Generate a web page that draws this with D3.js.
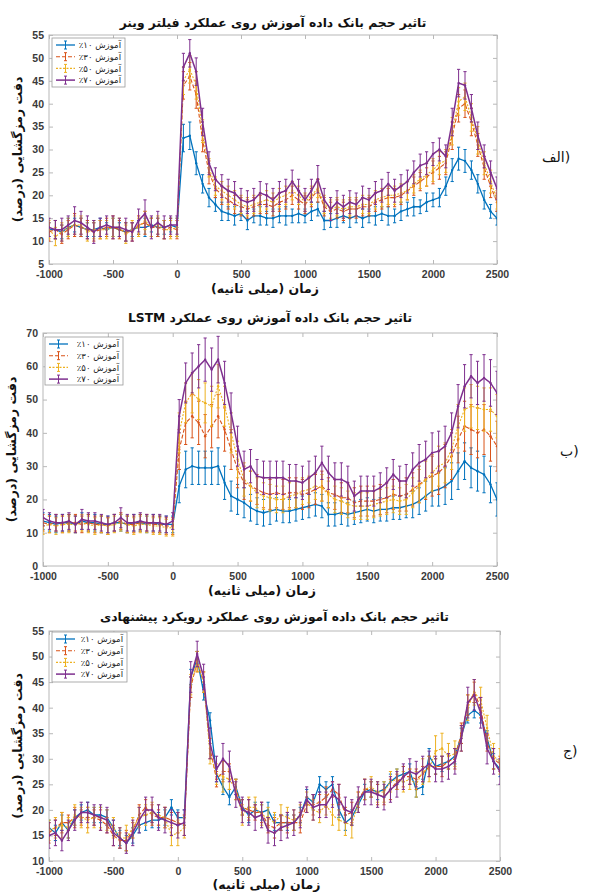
<!DOCTYPE html>
<html><head><meta charset="utf-8">
<script src="https://cdn.jsdelivr.net/npm/d3@7"></script>
<style>body{margin:0;background:#fff;position:relative}svg{display:block}
.side{position:absolute;direction:ltr;unicode-bidi:isolate;font-family:'DejaVu Sans',sans-serif;font-size:14px;color:#111;line-height:1;white-space:nowrap}</style>
</head><body><svg id="c" width="591" height="896"></svg>
<script>
// ---------- DATA ----------
const times = d3.range(-1000, 2501, 50);
const seriesLabels = ["آموزش ۱۰٪","آموزش ۳۰٪","آموزش ۵۰٪","آموزش ۷۰٪"];
const xTicks = [-1000,-500,0,500,1000,1500,2000,2500];
const yTicksWiener = [5,10,15,20,25,30,35,40,45,50,55];
const yTicksLSTM = [0,10,20,30,40,50,60,70];
const yTicksProp = [10,15,20,25,30,35,40,45,50,55];

// Panel 1 : Wiener filter
const w10 = [12.5,12.5,12,13,13.5,13,12.5,12.5,13,12.5,13,12.5,12,12.5,13,13,13.5,13,13,13.5,13,
 32.5,33,27,22.5,19.5,18,16.5,16,15.5,16, 14.5,15.5,15.5,15,15,15.5,15.5,15.5,16,15.5, 16.5,17,14.5,14.5,15,15.5,15,15.5,15,15.5, 15.5,16,15.5,15.5,16.5,17,17.5,17.5,18.5,19, 19.5,22,25.5,28,27.5,25.5,22.5,19,16.5,15];
const w30 = [12,12.5,11.5,12.5,13.5,13,12.5,12,12.5,13,13,12.5,12,12,13.5,14,13,13,12.5,13,12.5,
 44,46,42,32,25,21.5,20,19,18,17.5, 17,17.5,18,18,17.5,18.5,19,20,19,18, 19.5,21,17.5,16.5,17,16.5,17,17,17.5,17.5, 18.5,19,19.5,19.5,20,21,22,23,24,25, 26,27,33,39,40,36,31,26,22,18.5];
const w50 = [12.5,11,12,13,13.5,13.5,12,12.5,12.5,12.5,13,13,11.5,12.5,13,14.5,13,13.5,12.5,12.5,13,
 45,47.5,44,34,26,22,21,20,19,18, 17.5,18,18.5,19,18.5,19.5,20,21,20,18.5, 20,21.5,18,17,17.5,17,17.5,17.5,18,18, 19,19.5,20,20,20.5,21,22.5,23.5,24.5,25.5, 27,27.5,34,40.5,41.5,37,32,27,23,19];
const w70 = [13,12.5,12.5,13.5,14.5,14,13,12,13,13.5,13,13,12.5,12,14.5,16,13,14,13,13.5,13.5,
 48,51,47,36,27,23.5,22,21,20.5,19, 18.5,19,20.5,20,19,20.5,21,23,21,19, 21,23.5,19,17,18.5,17.5,18.5,18,19.5,19, 20.5,21,22.5,21,22,23,25,26.5,27,29, 30,28.5,36,44.5,44,39,33,28.5,25,21.5];
const ew10 = [1.5,2,1.5,2,1.5,2,1.5,1.5,2,1.5,2,1.5,2,1.5,1.5,2,1.5,2,1.5,1.5,2,
 3,3,2.5,2,2,1.5,2,1.5,2,1.5, 2,1.5,2,1.5,2,1.5,2,1.5,2,1.5, 2,1.5,2,1.5,2,1.5,2,1.5,2,1.5, 2,1.5,2,1.5,2,1.5,2,1.5,2,1.5, 2,2,2.5,2.5,2.5,2,2,2,1.5,1.5];
const ew30 = [2,2,2,2,2.5,2,2,2,2,2,2.5,2,2,2,2,2.5,2,2,2,2,2,
 3,3,3,2.5,2.5,2,2,2,2,2, 2,2,2,2,2,2,2,2,2,2, 2,2.5,2,2,2,2,2,2,2,2, 2,2,2,2,2,2,2,2,2,2.5, 2.5,2.5,3,3,3,3,2.5,2.5,2.5,2];
const ew50 = [2,2,2,2,2,2,2,2,2,2,2,2,2,2,2,2,2,2,2,2,2,
 3,3,3,2.5,2,2,2,2,2,2, 2,2,2,2,2,2,2,2,2,2, 2,2,2,2,2,2,2,2,2,2, 2,2,2,2,2,2,2,2,2.5,2.5, 2.5,2.5,3,3,3,3,3,2.5,2.5,2];
const ew70 = [2,2,2.5,2,3,2.5,2.5,2.5,2,2,2.5,2,2.5,2,2.5,3,2.5,2.5,2.5,2,2,
 3,3,3,3,2.5,2.5,2.5,2.5,2.5,2.5, 2.5,2.5,2.5,2.5,2.5,2.5,2.5,2.5,2.5,2.5, 2.5,3,2.5,2.5,2.5,2.5,2.5,2.5,2.5,2.5, 2.5,2.5,2.5,2.5,2.5,2.5,2.5,2.5,2.5,2.5, 2.5,2.5,3,3,3,3,3,2.5,2.5,2.5];

// Panel 2 : LSTM
const l10 = [13.5,13,12.5,13,13,12.5,13.5,13,13,12.5,12.5,13,13,12.5,13,13,12.5,13,12.5,12.5,12.5,
 24,29,30,29.5,29.5,29.5,30,25,21,20, 19,17.5,16.5,16,16.5,17,16.5,16.5,17,17.5, 18,18.5,18,15.5,15.5,16,15.5,16,16.5,17, 16.5,17,17,17.5,17.5,18,18.5,19.5,21,22.5, 23,24,25.5,28.5,31.5,29.5,28.5,27.5,24.5,20];
const l30 = [13,12.5,13,12.5,13,13,12.5,13,12.5,12.5,12,13,13.5,12.5,12.5,13,13,12.5,12.5,12,12,
 35,43,45,43,39,42,45,41,35,29, 25,24,23,22,21.5,22,21.5,22,22,21.5, 22,23,24,22,21.5,20.5,20.5,19,19.5,19.5, 19.5,20,20.5,21.5,21,21.5,23,24.5,26,27, 28,30,33,38,42,41,40,41,39,36];
const l50 = [12,12.5,12,12.5,12.5,12.5,13,12.5,12,12.5,12,12.5,13,12.5,12,12.5,12.5,12,12,11.5,11.5,
 40,49,52,50,49,48,54,48,40,32, 26,24,22,21,20.5,20,20,21,21.5,22.5, 23,24,23.5,21.5,20,19.5,18.5,18,18,18, 18.5,19,19.5,20,19.5,20,22,24,26,28, 30,31,35,42,47,48,47.5,47,47,45];
const l70 = [14.5,13.5,13,13,13.5,12.5,14,13.5,13.5,13,12.5,13,14.5,13,13,13.5,13,13,13,12.5,13.5,
 45,55,58,60,62,59,62,55,46,36, 29,30,27,26.5,26.5,26.5,26.5,25.5,25.5,25, 26.5,28,31,28,26,26,25,21,22.5,22.5, 22.5,23.5,25,27.5,25.5,25.5,29,31,32,34, 34.5,36,40,48,54,57,55,56.5,55,52];
const el10 = [2.5,2.5,2.5,2.5,2.5,2.5,2.5,2.5,2.5,2.5,2.5,2.5,2.5,2.5,2.5,2.5,2.5,2.5,2.5,2.5,2.5,
 5,5.5,5.5,5,5,5,5.5,5,4.5,4.5, 4.5,4,4,4,4,3.5,3.5,3.5,3.5,3.5, 3.5,3.5,3.5,3.5,3.5,3.5,3.5,3.5,3.5,3.5, 3.5,3.5,3.5,3.5,3.5,3.5,4,4,4.5,4.5, 5,5.5,5.5,5.5,5.5,6,6,5.5,5.5,5];
const el30 = [2.5,2.5,2.5,2.5,2.5,2.5,2.5,2.5,2.5,2.5,2.5,2.5,2.5,2.5,2.5,2.5,2.5,2.5,2.5,2.5,2.5,
 6,6.5,6.5,6.5,6.5,6.5,6.5,6.5,6,5.5, 5,4.5,4.5,4.5,4.5,4.5,4.5,4.5,4.5,4.5, 4.5,4.5,4.5,4.5,4.5,4.5,4.5,4.5,4.5,4.5, 4.5,4.5,4.5,4.5,4.5,5,5,5.5,6,6, 6.5,6.5,7,7,7.5,7.5,7.5,7.5,7.5,7.5];
const el50 = [2.5,2.5,2.5,2.5,2.5,2.5,2.5,2.5,2.5,2.5,2.5,2.5,2.5,2.5,2.5,2.5,2.5,2.5,2.5,2.5,2.5,
 6,6,6,6,6,6,6.5,6,6,5.5, 5,4.5,4.5,4,4,4,4,4,4,4, 4,4,4,4,4,4,4,4,4,4, 4,4,4,4,4,4.5,4.5,5,5.5,5.5, 6,6,6,6.5,6.5,6.5,6.5,6.5,6.5,6.5];
const el70 = [2.5,2.5,2.5,2.5,2.5,2.5,3,2.5,2.5,2.5,2.5,2.5,3,2.5,2.5,2.5,2.5,2.5,2.5,2.5,2.5,
 5,6,6,6.5,6.5,6.5,7,6.5,6,6, 5.5,5,5,5,5,5,5,5,5,5, 5,5,5,5,5,5,5,4.5,4.5,4.5, 4.5,4.5,4.5,4.5,4.5,5,5,5.5,5.5,6, 6,6,6,6.5,6.5,6.5,6.5,7,7,6.5];

// Panel 3 : proposed approach
const p10 = [16.5,15.5,17.5,16,18.5,19.5,20,19,19,18.5,16.5,14.5,13.5,15,17,17.5,18,18,18.5,20.5,18.5,
 18.5,46,49.5,43,37.5,27,24.5,22.5,24.5,20.5, 19,20,19.5,20,17.5,17.5,17.5,17.5,19,22.5, 21.5,25,24,25,20,17.5,18.5,21,23.5,24, 23.5,24,25.5,26.5,27,27.5,24,24.5,30.5,28.5, 29,29.5,30.5,34.5,38.5,39.5,38.5,34,29.5,28];
const p30 = [15.5,16.5,17.5,17.5,18.5,18.5,18.5,18.5,18,17,15,14,14,16,19,20.5,19,18.5,18.5,18,17.5,
 17,44,49,45,32,26,27.5,27.5,24,20.5, 20,19.5,19.5,17,16.5,17.5,17.5,17.5,17.5,21, 21,21.5,22.5,24,23,19,19.5,22,24,24, 23,22.5,24,25.5,26.5,26.5,26,27,28.5,28.5, 28.5,29.5,30,35,40.5,43,40,33,30,29];
const p50 = [16,16.5,17,16.5,19,18.5,18,18.5,18.5,18,16.5,14.5,14.5,16.5,18.5,19,19.5,19,18.5,15,15.5,
 16.5,44.5,49,45,31,27,26.5,26,24,19, 20.5,20.5,19,18.5,17.5,19,18.5,18,19,21.5, 20,19.5,21,19,18,17.5,17,21.5,24,24.5, 23.5,23.5,25.5,26,25.5,26,25,27.5,28,31.5, 32,30.5,31,34,40,43,41.5,36,30.5,29.5];
const p70 = [15,15.5,14,16,18,19.5,19.5,19,18.5,18,15.5,14.5,13.5,15.5,18,20,20,18.5,18,17.5,17,
 17.5,46,50.5,46,33,28,30,28.5,23,20, 19.5,18.5,19,16,15.5,16.5,17,17.5,19,22, 20.5,21,21,23,22,20,19.5,22,23.5,23.5, 23,22.5,24,25,26.5,27.5,27,28,29,28, 28,28.5,29.5,34,41,42.5,39,32,29.5,27.5];
const ep10 = [1.5,1.5,1.5,1.5,1.5,1.5,1.5,1.5,1.5,1.5,1.5,1.5,1.5,1.5,1.5,1.5,1.5,1.5,1.5,1.5,1.5,
 1.5,1.5,1.5,1.5,1.5,1.5,1.5,1.5,1.5,1.5, 1.5,1.5,1.5,1.5,1.5,1.5,1.5,1.5,1.5,1.5, 1.5,1.5,1.5,1.5,1.5,1.5,1.5,1.5,1.5,1.5, 1.5,1.5,1.5,1.5,1.5,1.5,1.5,1.5,1.5,1.5, 1.5,1.5,1.5,1.5,1.5,1.5,1.5,1.5,1.5,1.5];
const ep30 = [2,1.5,2,1.5,2,1.5,2,1.5,2,1.5,2,1.5,2,1.5,2,1.5,2,1.5,2,1.5,2,
 2,2,2,2,2,1.5,2,1.5,2,1.5, 2,1.5,2,1.5,2,1.5,2,1.5,2,1.5, 2,1.5,2,1.5,2,1.5,2,1.5,2,1.5, 2,1.5,2,1.5,2,1.5,2,1.5,2,1.5, 2,1.5,2,2,2,2,2,1.5,2,1.5];
const ep50 = [2,2,2.5,2,2,2,2.5,2,2,2,2,2,2.5,2,2,2,2,2,2,2,2.5,
 2,2,2,2,2,2,3,2,2,2, 2,2,2,2,2,2,2,2,2,2, 2,2,2,2,2,2.5,2.5,2,2,2, 2,2,2,2,2,2,2.5,2.5,2.5,3, 3,2.5,2.5,2.5,2.5,2.5,2.5,2.5,2.5,2.5];
const ep70 = [2.5,2.5,2,2,2,2,2,2,2.5,2.5,2.5,2,2,2.5,2.5,2.5,2.5,2.5,2.5,2.5,2.5,
 2.5,3,2.5,2.5,3,2.5,3,3,2.5,2.5, 2.5,2.5,2.5,2.5,2.5,2.5,2.5,2.5,2.5,2.5, 2.5,2.5,2.5,2.5,3,2.5,2.5,2.5,2.5,2.5, 2.5,2.5,2.5,2.5,2.5,2.5,2.5,2.5,2.5,2.5, 2.5,2.5,2.5,2.5,3,3,3,3,2.5,2.5];

// ---------- STYLE / LAYOUT ----------
const colors = ["#0072BD","#D95319","#EDB120","#7E2F8E"];
const dashes = [null,"4,2","2,1.5",null];
const widths = [1.3,1.1,1.1,1.5];
const fontFa = "'DejaVu Sans', sans-serif";
const fontNum = "'Liberation Sans', Arial, sans-serif";

const panels = [
 {title:"تاثیر حجم بانک داده آموزش روی عملکرد فیلتر وینر", box:{l:49,r:497,t:35,b:264},
  yDomain:[5,55], yTicks:yTicksWiener, vals:[w10,w30,w50,w70], errs:[ew10,ew30,ew50,ew70],
  side:"الف)", sideL:542, sideT:150, titleY:27, xlabY:293, leg:{x:52,y:38,w:73,h:49}},
 {title:"تاثیر حجم بانک داده آموزش روی عملکرد LSTM", box:{l:43,r:497,t:333,b:566},
  yDomain:[0,70], yTicks:yTicksLSTM, vals:[l10,l30,l50,l70], errs:[el10,el30,el50,el70],
  side:"ب)", sideL:560, sideT:444, titleY:322, xlabY:595, leg:{x:45,y:337,w:78,h:48}},
 {title:"تاثیر حجم بانک داده آموزش روی عملکرد رویکرد پیشنهادی", box:{l:49,r:500,t:631,b:861},
  yDomain:[10,55], yTicks:yTicksProp, vals:[p10,p30,p50,p70], errs:[ep10,ep30,ep50,ep70],
  side:"ج)", sideL:563, sideT:744, titleY:621, xlabY:889, leg:{x:52,y:632,w:75,h:50}}
];

const svg = d3.select("#c");
svg.append("rect").attr("width",591).attr("height",896).attr("fill","#fff");

panels.forEach(P => {
  const {l,r,t,b} = P.box;
  const x = d3.scaleLinear().domain([-1000,2500]).range([l,r]);
  const y = d3.scaleLinear().domain(P.yDomain).range([b,t]);
  const g = svg.append("g");

  const axCol = "#b8b8b8";
  const styleAxis = sel => {
    sel.select(".domain").remove();
    sel.selectAll(".tick line").attr("stroke",axCol);
    sel.selectAll(".tick text").attr("fill","#3a3a3a").attr("font-family",fontNum)
       .attr("font-weight","bold").attr("font-size",10.5);
  };
  g.append("g").attr("transform",`translate(0,${b})`)
    .call(d3.axisBottom(x).tickValues(xTicks).tickSizeInner(-4).tickSizeOuter(0).tickPadding(7).tickFormat(d=>String(d)))
    .call(styleAxis);
  g.append("g").attr("transform",`translate(0,${t})`)
    .call(d3.axisTop(x).tickValues(xTicks).tickSizeInner(-4).tickSizeOuter(0).tickFormat(""))
    .call(styleAxis);
  g.append("g").attr("transform",`translate(${l},0)`)
    .call(d3.axisLeft(y).tickValues(P.yTicks).tickSizeInner(-4).tickSizeOuter(0).tickPadding(5).tickFormat(d=>String(d)))
    .call(styleAxis);
  g.append("g").attr("transform",`translate(${r},0)`)
    .call(d3.axisRight(y).tickValues(P.yTicks).tickSizeInner(-4).tickSizeOuter(0).tickFormat(""))
    .call(styleAxis);
  g.append("rect").attr("x",l).attr("y",t).attr("width",r-l).attr("height",b-t)
    .attr("fill","none").attr("stroke",axCol).attr("stroke-width",1);

  const clipId = "clip"+l+"_"+t;
  svg.append("clipPath").attr("id",clipId).append("rect")
    .attr("x",l).attr("y",t).attr("width",r-l).attr("height",b-t);
  const plot = g.append("g").attr("clip-path",`url(#${clipId})`);
  P.vals.forEach((vals,si) => {
    const errs = P.errs[si];
    const c = colors[si];
    const data = times.map((tm,i)=>({t:tm,v:vals[i],e:errs[i]}));
    const sg = plot.append("g");
    sg.selectAll("line.eb").data(data).join("line").attr("class","eb")
      .attr("x1",d=>x(d.t)).attr("x2",d=>x(d.t))
      .attr("y1",d=>y(d.v-d.e)).attr("y2",d=>y(d.v+d.e))
      .attr("stroke",c).attr("stroke-width",1);
    [-1,1].forEach(s=>{
      sg.selectAll("line.cap"+(s>0?"u":"d")).data(data).join("line").attr("class","cap"+(s>0?"u":"d"))
        .attr("x1",d=>x(d.t)-1.6).attr("x2",d=>x(d.t)+1.6)
        .attr("y1",d=>y(d.v+s*d.e)).attr("y2",d=>y(d.v+s*d.e))
        .attr("stroke",c).attr("stroke-width",1);
    });
    sg.append("path").datum(data)
      .attr("d",d3.line().x(d=>x(d.t)).y(d=>y(d.v)))
      .attr("fill","none").attr("stroke",c).attr("stroke-width",widths[si])
      .attr("stroke-dasharray",dashes[si]);
    sg.selectAll("circle").data(data).join("circle")
      .attr("cx",d=>x(d.t)).attr("cy",d=>y(d.v)).attr("r",1.2).attr("fill",c);
  });

  // legend
  const L = P.leg;
  const lg = g.append("g");
  lg.append("rect").attr("x",L.x).attr("y",L.y).attr("width",L.w).attr("height",L.h)
    .attr("fill","#fff").attr("stroke","#9a9a9a").attr("stroke-width",0.8);
  seriesLabels.forEach((lab,si)=>{
    const cy = L.y + 7 + si*11.7;
    const c = colors[si];
    lg.append("line").attr("x1",L.x+4).attr("x2",L.x+23).attr("y1",cy).attr("y2",cy)
      .attr("stroke",c).attr("stroke-width",widths[si]).attr("stroke-dasharray",dashes[si]);
    lg.append("line").attr("x1",L.x+13.5).attr("x2",L.x+13.5).attr("y1",cy-4).attr("y2",cy+4)
      .attr("stroke",c).attr("stroke-width",1);
    [-4,4].forEach(dy=>lg.append("line").attr("x1",L.x+12).attr("x2",L.x+15)
      .attr("y1",cy+dy).attr("y2",cy+dy).attr("stroke",c).attr("stroke-width",1));
    lg.append("text").attr("x",L.w+L.x-4).attr("y",cy+3.2)
      .attr("direction","rtl").attr("text-anchor","start")
      .attr("font-family",fontFa).attr("font-size",8.5).attr("fill","#222").text(lab);
  });

  // titles and labels
  svg.append("text").attr("x",(l+r)/2).attr("y",P.titleY).attr("text-anchor","middle")
    .attr("direction","rtl").attr("font-family",fontFa).attr("font-weight","bold")
    .attr("font-size",12.3).attr("fill","#111").text(P.title);
  svg.append("text").attr("x",(l+r)/2 - 8).attr("y",P.xlabY).attr("text-anchor","middle")
    .attr("direction","rtl").attr("font-family",fontFa).attr("font-weight","bold")
    .attr("font-size",12.5).attr("fill","#111").text("زمان (میلی ثانیه)");
  svg.append("text").attr("transform",`translate(${l-27},${(t+b)/2}) rotate(-90)`)
    .attr("text-anchor","middle").attr("direction","rtl").attr("font-family",fontFa)
    .attr("font-weight","bold").attr("font-size",12.5).attr("fill","#111")
    .text("دقت رمزگشایی (درصد)");
  // side label as an HTML overlay (LTR paragraph keeps ")" on the right)
  d3.select("body").append("div").attr("class","side").attr("dir","ltr")
    .style("left",P.sideL+"px").style("top",P.sideT+"px").text(P.side);
});
</script></body></html>
